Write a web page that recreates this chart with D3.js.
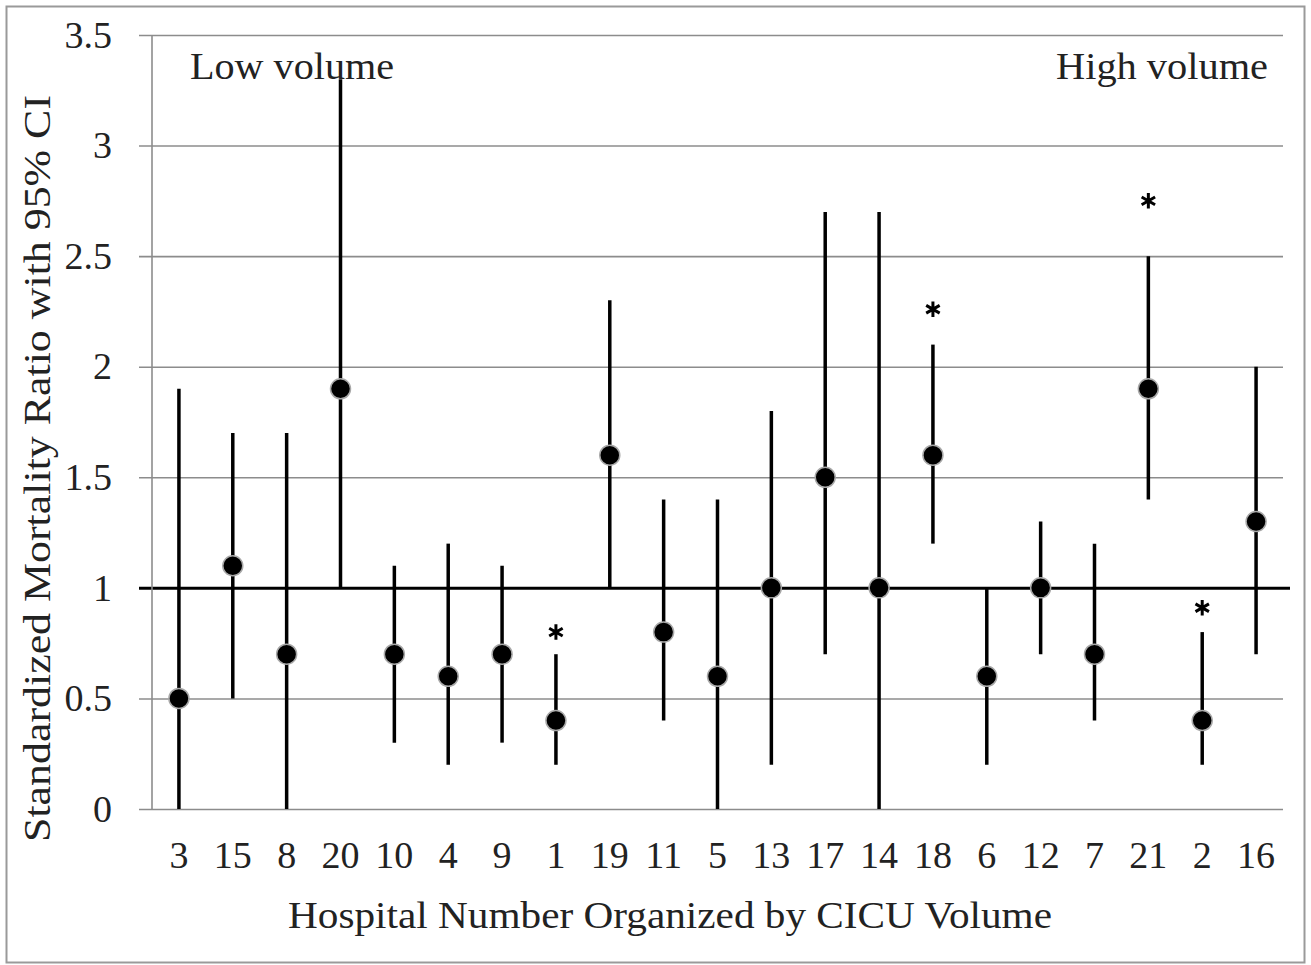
<!DOCTYPE html>
<html>
<head>
<meta charset="utf-8">
<script src="https://cdn.jsdelivr.net/npm/d3@7"></script>
<style>
  html, body { margin: 0; padding: 0; background: #fff; }
  svg { display: block; font-family: "Liberation Serif", "DejaVu Serif", serif; }
</style>
</head>
<body>
<svg id="chart" width="1311" height="965"></svg>
<script>
// hospitals, ordered by CICU volume (low -> high)
const hospitals = ["3", "15", "8", "20", "10", "4", "9", "1", "19", "11", "5",
                   "13", "17", "14", "18", "6", "12", "7", "21", "2", "16"];
// standardized mortality ratio and its 95% CI
const smr   = [0.5, 1.1, 0.7, 1.9, 0.7, 0.6, 0.7, 0.4, 1.6, 0.8, 0.6,
               1.0, 1.5, 1.0, 1.6, 0.6, 1.0, 0.7, 1.9, 0.4, 1.3];
const ciLow = [0.0, 0.5, 0.0, 1.0, 0.3, 0.2, 0.3, 0.2, 1.0, 0.4, 0.0,
               0.2, 0.7, 0.0, 1.2, 0.2, 0.7, 0.4, 1.4, 0.2, 0.7];
const ciHigh = [1.9, 1.7, 1.7, 3.3, 1.1, 1.2, 1.1, 0.7, 2.3, 1.4, 1.4,
                1.8, 2.7, 2.7, 2.1, 1.0, 1.3, 1.2, 2.5, 0.8, 2.0];
// significant hospitals and the level at which the asterisk sits
const starHospitals = ["1", "18", "21", "2"];
const starLevels    = [0.8, 2.26, 2.75, 0.91];
const yTicks = [0, 0.5, 1, 1.5, 2, 2.5, 3, 3.5];

const svg = d3.select("#chart");
const plot = { left: 152, right: 1283, top: 35, bottom: 809 };

// data rows for the join
const rows = hospitals.map((h, i) => ({ h, smr: smr[i], lo: ciLow[i], hi: ciHigh[i] }));
const stars = starHospitals.map((h, i) => ({ h, level: starLevels[i] }));

const x = d3.scaleBand().domain(hospitals).range([plot.left, plot.right]);
const y = d3.scaleLinear().domain([0, 3.5]).range([plot.bottom, plot.top]);

// outer frame
svg.append("rect")
    .attr("x", 6.5).attr("y", 6.5)
    .attr("width", 1298).attr("height", 956)
    .attr("fill", "none").attr("stroke", "#9a9a9a").attr("stroke-width", 2);

// horizontal gridlines + y tick labels
const yAxis = d3.axisLeft(y).tickValues(yTicks)
    .tickSize(-(plot.right - plot.left) - 13)
    .tickFormat(d => d3.format("")(d));
const gy = svg.append("g")
    .attr("transform", `translate(${plot.left - 13},0)`)
    .call(yAxis);
gy.select(".domain").remove();
gy.selectAll(".tick line")
    .attr("stroke", d => d === 1 ? "#000" : "#8c8c8c")
    .attr("stroke-width", d => d === 1 ? 3 : 1.6)
    .attr("x2", d => d === 1 ? plot.right - plot.left + 20 : plot.right - plot.left + 13);
gy.selectAll(".tick text")
    .attr("x", -27)
    .attr("font-size", 38).attr("fill", "#222")
    .attr("font-family", "Liberation Serif, serif");

// vertical axis line
svg.append("line")
    .attr("x1", plot.left).attr("x2", plot.left)
    .attr("y1", y(3.5)).attr("y2", y(0))
    .attr("stroke", "#8c8c8c").attr("stroke-width", 1.6);

// x tick labels
const xAxis = d3.axisBottom(x).tickSize(0).tickPadding(32);
const gx = svg.append("g")
    .attr("transform", `translate(0,${plot.bottom})`)
    .call(xAxis);
gx.select(".domain").remove();
gx.selectAll(".tick text")
    .attr("font-size", 38).attr("fill", "#222")
    .attr("font-family", "Liberation Serif, serif");

// confidence interval whiskers
svg.append("g").selectAll("line")
  .data(rows).join("line")
    .attr("x1", d => x(d.h) + x.bandwidth() / 2)
    .attr("x2", d => x(d.h) + x.bandwidth() / 2)
    .attr("y1", d => y(d.lo))
    .attr("y2", d => y(d.hi))
    .attr("stroke", "#000").attr("stroke-width", 3.5);

// point estimates
svg.append("g").selectAll("circle")
  .data(rows).join("circle")
    .attr("cx", d => x(d.h) + x.bandwidth() / 2)
    .attr("cy", d => y(d.smr))
    .attr("r", 10)
    .attr("fill", "#000")
    .attr("stroke", "#a8a8a8").attr("stroke-width", 1.5);

// significance asterisks
const asterisk = d3.symbol().type(d3.symbolAsterisk).size(170);
svg.append("g").selectAll("path")
  .data(stars).join("path")
    .attr("transform", d => `translate(${x(d.h) + x.bandwidth() / 2},${y(d.level)})`)
    .attr("d", asterisk)
    .attr("fill", "none").attr("stroke", "#000").attr("stroke-width", 3);

// volume labels
svg.append("text")
    .attr("x", 190).attr("y", 79)
    .attr("font-size", 37).attr("fill", "#222")
    .attr("textLength", 204).attr("lengthAdjust", "spacingAndGlyphs")
    .text("Low volume");
svg.append("text")
    .attr("x", 1056).attr("y", 79)
    .attr("font-size", 37).attr("fill", "#222")
    .attr("textLength", 212).attr("lengthAdjust", "spacingAndGlyphs")
    .text("High volume");

// axis titles
svg.append("text")
    .attr("x", 288).attr("y", 928)
    .attr("font-size", 38).attr("fill", "#222")
    .attr("textLength", 764).attr("lengthAdjust", "spacingAndGlyphs")
    .text("Hospital Number Organized by CICU Volume");
svg.append("text")
    .attr("transform", "translate(50,842) rotate(-90)")
    .attr("font-size", 37).attr("fill", "#222")
    .attr("textLength", 747).attr("lengthAdjust", "spacingAndGlyphs")
    .text("Standardized Mortality Ratio with 95% CI");
</script>
</body>
</html>
